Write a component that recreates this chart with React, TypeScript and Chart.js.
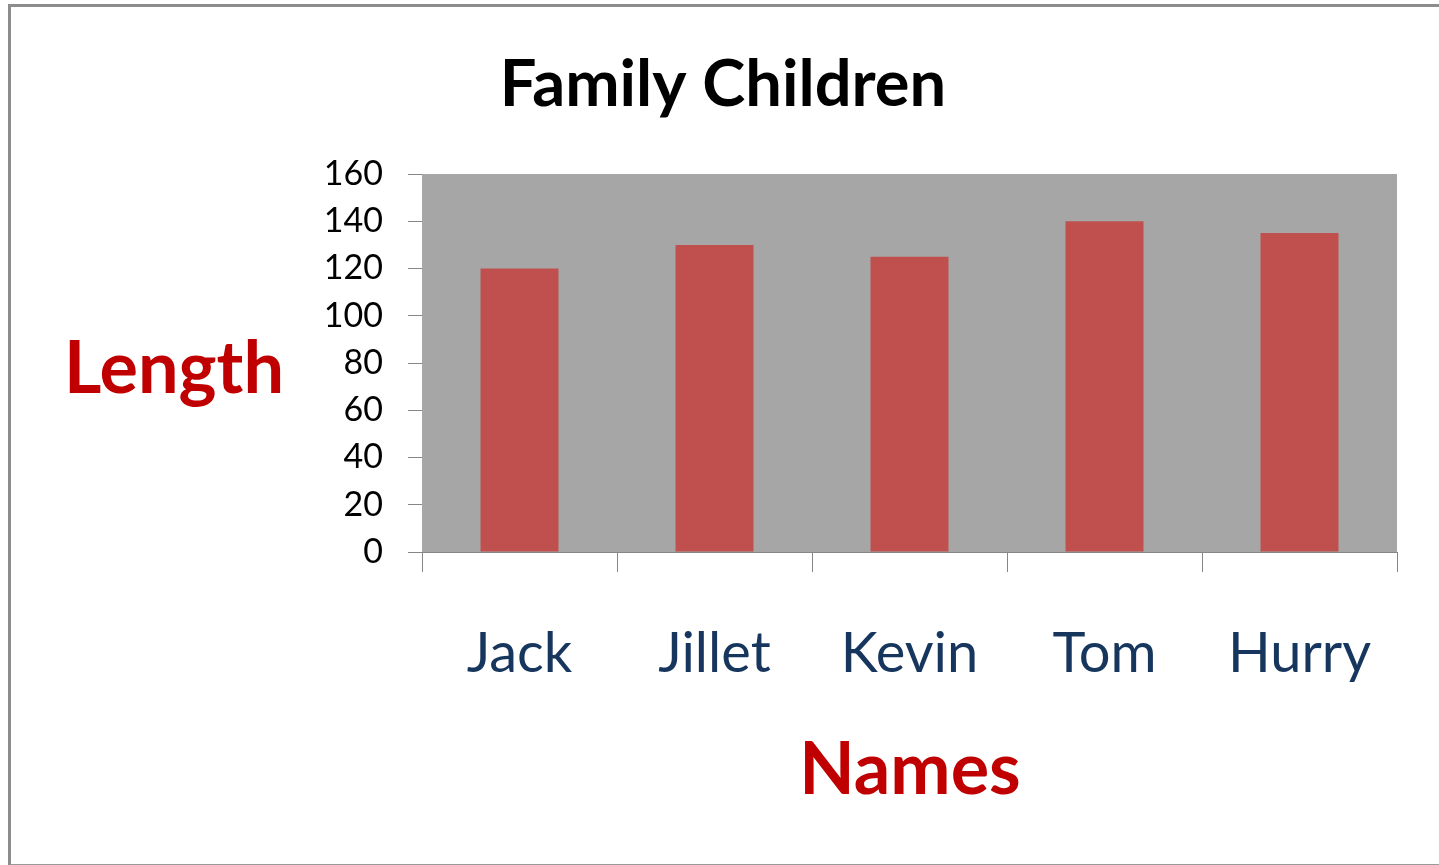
import React, { useEffect, useRef } from "react";
import { Chart, registerables } from "chart.js";

Chart.register(...registerables);

const chartTitle = "Family Children";
const yAxisTitle = "Length";
const xAxisTitle = "Names";
const categories = ["Jack", "Jillet", "Kevin", "Tom", "Hurry"];
const lengths = [120, 130, 125, 140, 135];
const yMin = 0;
const yMax = 160;
const yStep = 20;

const FONT = "Lato, 'Open Sans', sans-serif";

const plotBackground = {
  id: "plotBackground",
  beforeDatasetsDraw(chart: any) {
    const { ctx, chartArea } = chart;
    ctx.save();
    ctx.fillStyle = "#a6a6a6";
    ctx.fillRect(chartArea.left, chartArea.top, chartArea.right - chartArea.left, chartArea.bottom - chartArea.top);
    ctx.restore();
  },
};

const textLabels = {
  id: "textLabels",
  afterDraw(chart: any) {
    const { ctx } = chart;
    ctx.save();
    ctx.textBaseline = "alphabetic";
    ctx.fillStyle = "#000000";
    ctx.font = `bold 65px ${FONT}`;
    ctx.textAlign = "center";
    ctx.fillText(chartTitle, 723, 106);
    ctx.fillStyle = "#c00000";
    ctx.font = `bold 72px ${FONT}`;
    ctx.textAlign = "left";
    ctx.fillText(yAxisTitle, 64, 393);
    ctx.font = `bold 72px ${FONT}`;
    ctx.textAlign = "center";
    ctx.fillText(xAxisTitle, 910, 794);
    ctx.restore();
  },
};

export default function App() {
  const ref = useRef<HTMLCanvasElement>(null);
  useEffect(() => {
    if (!ref.current) return;
    const chart = new Chart(ref.current, {
      type: "bar",
      data: {
        labels: categories,
        datasets: [
          {
            data: lengths,
            backgroundColor: "#c0504d",
            borderWidth: 0,
            barPercentage: 0.4,
            categoryPercentage: 1,
          },
        ],
      },
      options: {
        animation: false,
        responsive: false,
        maintainAspectRatio: false,
        layout: { padding: { top: 174, right: 42, left: 0, bottom: 0 } },
        plugins: { legend: { display: false }, title: { display: false }, tooltip: { enabled: false } },
        scales: {
          x: {
            afterFit(scale: any) {
              scale.height = 313;
            },
            border: { display: true, color: "#868686", width: 1 },
            grid: { offset: true, drawOnChartArea: false, drawTicks: true, tickLength: 20, color: "#868686" },
            ticks: { color: "#17365d", font: { family: FONT, size: 56 }, padding: 48, maxRotation: 0 },
          },
          y: {
            min: yMin,
            max: yMax,
            afterFit(scale: any) {
              scale.width = 422;
            },
            border: { display: true, color: "#868686", width: 1 },
            grid: { drawOnChartArea: false, drawTicks: true, tickLength: 14, color: "#868686" },
            ticks: { stepSize: yStep, color: "#000000", font: { family: FONT, size: 34 }, padding: 25 },
          },
        },
      },
      plugins: [plotBackground, textLabels],
    });
    return () => chart.destroy();
  }, []);
  return (
    <div style={{ position: "fixed", left: 0, top: 0, width: 1439, height: 865, background: "#ffffff" }}>
      <div
        style={{
          position: "absolute",
          left: 8,
          top: 4,
          width: 1440,
          height: 857,
          borderLeft: "3px solid #8c8c8c",
          borderTop: "3px solid #8c8c8c",
          borderBottom: "3px solid #9a9a9a",
        }}
      />
      <canvas ref={ref} width={1439} height={865} style={{ position: "absolute", left: 0, top: 0 }} />
    </div>
  );
}
